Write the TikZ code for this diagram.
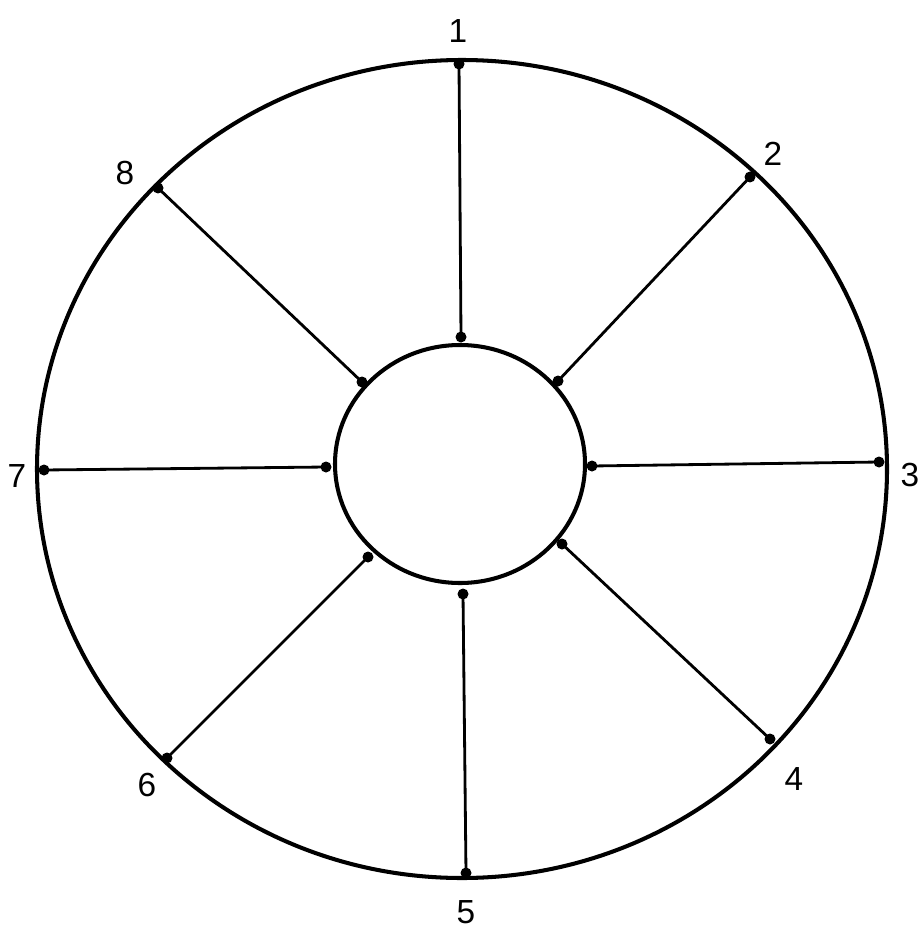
\documentclass[tikz,border=0pt]{standalone}
\usepackage{fontspec}
\setmainfont{Liberation Sans}
\usepackage{tikz}
\tikzset{
  rim/.style={line width=2.3pt},
  spoke/.style={line width=1.6pt},
  lab/.style={font=\fontsize{19}{22}\selectfont}
}

\begin{document}
\begin{tikzpicture}[x=0.2mm, y=-0.2mm]
\useasboundingbox (0,0) rectangle (923,928);
\draw[rim] (462,469) ellipse [x radius=425, y radius=409];
\draw[rim] (460,464) ellipse [x radius=125, y radius=119];
\foreach \k/\ox/\oy/\ix/\iy/\lx/\ly in {%
  1/459/64/461/337/458/31, 2/750/177/558/381/773/154,
  3/879/462/592/466/910/475, 4/770/739/562/544/794/779,
  5/466/873/463/594/466/912, 6/167/758/368/557/147/785,
  7/44/470/326/467/17/476, 8/158/188/362/382/125/173}{%
  \coordinate (o\k) at (\ox,\oy);
  \coordinate (i\k) at (\ix,\iy);
  \draw[spoke] (o\k) -- (i\k);
  \fill (o\k) circle (5.5);
  \fill (i\k) circle (5.5);
  \node[lab] (l\k) at (\lx,\ly) {\k};}
\end{tikzpicture}
\end{document}
